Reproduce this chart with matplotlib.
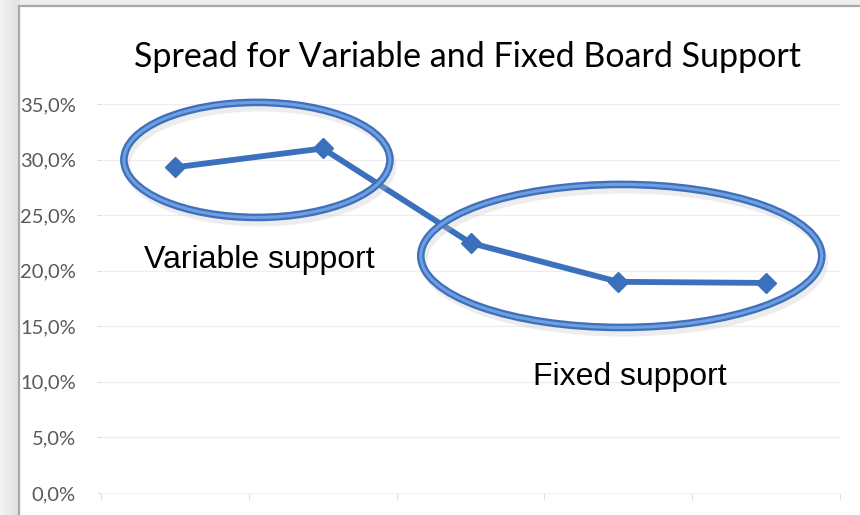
import numpy as np
import matplotlib.pyplot as plt
from matplotlib.patches import Ellipse, Rectangle

# Data
categories = [1, 2, 3, 4, 5]
spread = [29.3, 31.0, 22.5, 19.0, 18.9]  # percent
yticks = [0, 5, 10, 15, 20, 25, 30, 35]
ytick_labels = ["0,0%", "5,0%", "10,0%", "15,0%", "20,0%", "25,0%", "30,0%", "35,0%"]

title = "Spread for Variable and Fixed Board Support"
note_variable = "Variable support"
note_fixed = "Fixed support"

W, H = 860, 515
fig = plt.figure(figsize=(W / 100, H / 100), dpi=100)
fig.patch.set_facecolor("#eeeeee")

# grey slide frame with a gradient on the left
bg = fig.add_axes([0, 0, 1, 1], zorder=-10)
grad = np.linspace(0.95, 0.88, 20)
bg.imshow(np.tile(grad, (10, 1)), cmap="gray", vmin=0, vmax=1,
          extent=[0, 20, 0, H], aspect="auto")
bg.set_xlim(0, W)
bg.set_ylim(0, H)
bg.axis("off")
bg.add_patch(Rectangle((19, -5), W, H - 1, facecolor="white",
                       edgecolor="#a9a9a9", linewidth=1.6))

# plot area
ax = fig.add_axes([101 / W, 22 / H, 739 / W, 389 / H])
ax.set_facecolor("none")
x = np.arange(len(categories))
ax.set_xlim(-0.5, len(categories) - 0.5)
ax.set_ylim(0, 35)

for yv in yticks[1:]:
    ax.axhline(yv, color="#ededed", linewidth=0.9, zorder=0)

ax.plot(x, spread, color="#3b70bd", linewidth=4.2, marker="D",
        markersize=10.5, markerfacecolor="#3b70bd", markeredgecolor="#3b70bd",
        solid_joinstyle="round", zorder=3)

ax.set_yticks(yticks)
ax.set_yticklabels(ytick_labels, family="Lato", fontsize=14.5, color="#595959")
ax.set_xticks(np.arange(len(categories) + 1) - 0.5)
ax.set_xticklabels([])
ax.tick_params(axis="y", length=3, color="#dddddd", pad=15)
ax.tick_params(axis="x", length=5, color="#e0e0e0", direction="out")
for s in ["top", "right", "left"]:
    ax.spines[s].set_visible(False)
ax.spines["bottom"].set_color("#f2f2f2")
ax.spines["bottom"].set_linewidth(0.8)

# highlight ellipses
def ring(ax, cx, cy, w, h):
    shadow = Ellipse((cx + 0.02, cy - 0.5), w, h, fill=False,
                     edgecolor="#c4c4c4", linewidth=5, alpha=0.3, zorder=4)
    outer = Ellipse((cx, cy), w, h, fill=False, edgecolor="#3e71ba",
                    linewidth=5.5, zorder=5)
    inner = Ellipse((cx, cy), w, h, fill=False, edgecolor="#6f9fe2",
                    linewidth=2.2, zorder=6)
    for e in (shadow, outer, inner):
        e.set_clip_on(False)
        ax.add_patch(e)

ring(ax, 0.555, 29.97, 1.80, 10.35)
ring(ax, 3.02, 21.33, 2.713, 12.87)

ax.text(0.57, 21.0, note_variable, family="Liberation Sans", fontsize=23,
        ha="center", va="center", color="black", zorder=7)
ax.text(3.08, 10.4, note_fixed, family="Liberation Sans", fontsize=23,
        ha="center", va="center", color="black", zorder=7)

fig.text(467 / W, 1 - 57 / H, title, family="Lato", fontsize=24.5,
         ha="center", va="center", color="black")

fig.savefig("out.png", dpi=100)
